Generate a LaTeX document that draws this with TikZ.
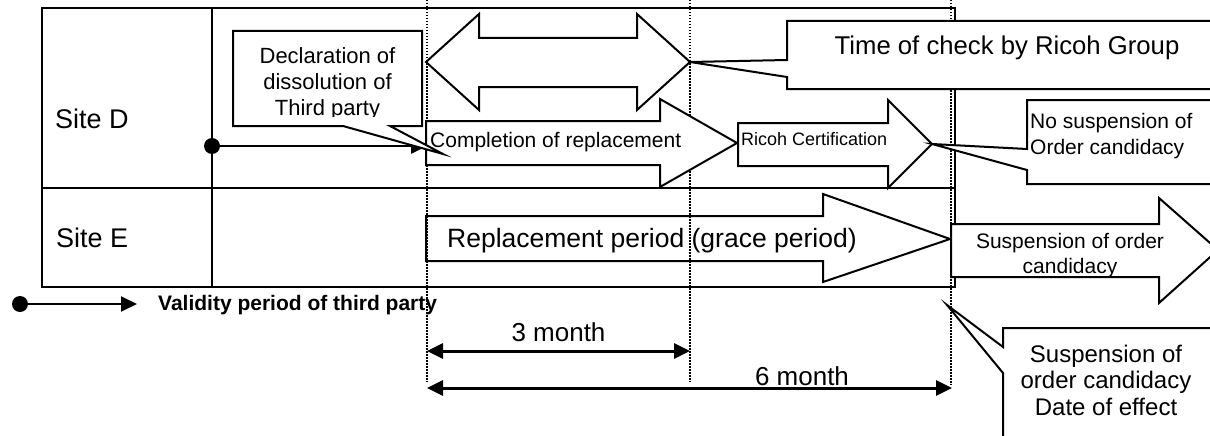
\documentclass[tikz,border=0pt]{standalone}
\usepackage{fontspec}
\setmainfont{Liberation Sans}
\usetikzlibrary{arrows.meta}
\newcommand{\fsz}[2]{\fontsize{#1}{#2}\selectfont}

\begin{document}
\begin{tikzpicture}[x=1pt, y=-1pt, >={Triangle[length=16pt,width=15pt]},
        grid/.style={line width=2.6pt},
        guide/.style={line width=1.5pt, dash pattern=on 1.5pt off 1.5pt},
        blk/.style={draw, line width=2pt, fill=white},
        txt/.style={inner sep=0pt},
        dot/.style={circle, fill, inner sep=0pt, minimum size=16pt},
        dim/.style={<->, line width=3pt}]
        \useasboundingbox (0,0) rectangle (1210,436);
        \clip (0,0) rectangle (1210,436);

        % time marks
        \coordinate (t0) at (427,0);
        \coordinate (t3) at (690,0);
        \coordinate (t6) at (951,0);
        \draw[guide] (t0) -- ++(0,382);
        \draw[guide] (t3) -- ++(0,382);
        \draw[guide] (t6) -- ++(0,385);

        % table
        \draw[grid] (42,8) rectangle (955,287);
        \draw[grid] (42,188) -- (955,188);
        \draw[grid] (212,8) -- (212,287);
        \node[txt, anchor=base west, font=\fsz{27}{32}] (siteD) at (55,128) {Site D};
        \node[txt, anchor=base west, font=\fsz{27}{32}] (siteE) at (56,247) {Site E};

        % site D
        \draw[blk] (426,121) -- (660,121) -- (660,99) -- (737,143) -- (660,187) -- (660,165) -- (426,165) -- cycle;
        \node[txt, anchor=base west, font=\fsz{21}{25}] (compl) at (430,147) {Completion of replacement};
        \draw[blk] (738,123) -- (888,123) -- (888,100) -- (932,144) -- (888,188) -- (888,166) -- (738,166) -- cycle;
        \node[txt, anchor=base west, font=\fsz{18}{22}] (cert) at (741,145) {Ricoh Certification};
        \coordinate (certtip) at (932,144);

        \node[dot] (startD) at (212,146) {};
        \coordinate (tailC) at (427,146);
        \draw[->, line width=2.6pt] (startD) -- (tailC);

        \draw[blk] (233,31) -- (422,31) -- (422,126) -- (390,126) -- (443,154) -- (343,126) -- (233,126) -- cycle;
        \begin{scope}
            \clip (233,31) rectangle (422,116);
            \node[txt, align=center, anchor=north, font=\fsz{22}{26}] (decl) at (327.5,47) {Declaration of\\dissolution of\\Third party};
        \end{scope}

        \draw[blk] (426,62) -- (479,14) -- (479,38) -- (637,38) -- (637,14) -- (690,62) -- (637,110) -- (637,87) -- (479,87) -- (479,110) -- cycle;
        \draw[blk] (787,21) -- (1215,21) -- (1215,89) -- (787,89) -- (787,77) -- (690,62) -- (787,60) -- cycle;
        \node[txt, anchor=base, font=\fsz{25.7}{30}] (check) at (1007,55) {Time of check by Ricoh Group};

        \draw[blk] (1027,100) -- (1215,100) -- (1215,184) -- (1027,184) -- (1027,170) -- (certtip) -- (1027,149) -- cycle;
        \node[txt, align=left, anchor=north west, font=\fsz{21}{26}] (nosusp) at (1030,113) {No suspension of\\Order candidacy};

        % site E
        \draw[line width=2pt] (426,216) -- (823,216) -- (823,194) -- (950,239) -- (823,282) -- (823,261) -- (426,261) -- cycle;
        \node[txt, anchor=base west, font=\fsz{26.5}{31}] (repl) at (447,247) {Replacement period (grace period)};

        \draw[blk] (951,224) -- (1159,224) -- (1159,198) -- (1218,250) -- (1159,303) -- (1159,277) -- (951,277) -- cycle;
        \begin{scope}
            \clip (951,224) rectangle (1220,276);
            \node[txt, align=center, anchor=north, font=\fsz{21}{25}] (susp) at (1070,233) {Suspension of order\\candidacy};
        \end{scope}

        \draw[blk] (1003,328) -- (1215,328) -- (1215,440) -- (1003,440) -- (1003,373) -- (947,305) -- (1003,347) -- cycle;
        \node[txt, align=center, anchor=north, font=\fsz{24}{26.5}] (eff) at (1106,344.5) {Suspension of\\order candidacy\\Date of effect};

        % legend
        \node[dot] (legdot) at (20,304) {};
        \coordinate (legend end) at (137,304);
        \draw[->, line width=2pt] (legdot) -- (legend end);
        \node[txt, anchor=base west, font=\bfseries\fsz{21}{25}] (valid) at (158,310) {Validity period of third party};

        % periods
        \draw[dim] (t0 |- 0,351) -- (t3 |- 0,351) node[midway, above=8pt, txt, font=\fsz{26}{30}] (m3) {3 month};
        \draw[dim] (t0 |- 0,388) -- (952,388);
        \node[txt, anchor=base, font=\fsz{26}{30}] (m6) at (802,385) {6 month};
\end{tikzpicture}
\end{document}
